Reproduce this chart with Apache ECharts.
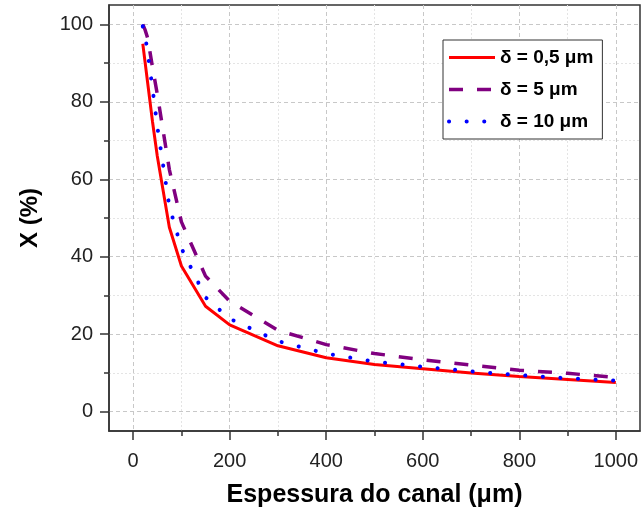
<!DOCTYPE html>
<html>
<head>
<meta charset="utf-8">
<script src="https://cdn.jsdelivr.net/npm/echarts@6/dist/echarts.min.js"></script>
<style>
html,body{margin:0;padding:0;background:#fff;}
#chart{width:642px;height:513px;}
</style>
</head>
<body>
<div id="chart"></div>
<script>
// Channel thickness (µm)
const thickness = [20, 25, 30, 40, 50, 75, 100, 150, 200, 300, 400, 500, 600, 700, 800, 900, 1000];
// X (%) for each delta
const delta05 = [95, 90, 85, 75, 66, 47.6, 37.6, 27.2, 22.4, 17, 13.9, 12.2, 11.1, 10, 9.1, 8.3, 7.5];
const delta5  = [100, 98.5, 96.5, 89, 82, 62.5, 49, 35, 28.5, 21, 17.3, 15, 13.4, 12, 10.7, 9.9, 8.8];
const delta10 = [99.5, 97, 92.7, 83.6, 73.7, 53, 42.2, 29.5, 24, 18.2, 15, 12.9, 11.6, 10.4, 9.4, 8.6, 8.0];
const seriesNames = ['δ = 0,5 μm', 'δ = 5 μm', 'δ = 10 μm'];
// Tick values
const xMajorTicks = [0, 200, 400, 600, 800, 1000];
const xMinorTicks = [100, 300, 500, 700, 900];
const yMajorTicks = [0, 20, 40, 60, 80, 100];
const yMinorTicks = [10, 30, 50, 70, 90];
const xTitle = 'Espessura do canal (μm)';
const yTitle = 'X (%)';

function pairs(ys) { return thickness.map((x, i) => [x, ys[i]]); }

const font = 'Liberation Sans, Arial, sans-serif';
const axisColor = '#333';
const labelStyle = {fontFamily: font, fontSize: 20, color: '#222'};

function majorAxis(pos, min, max, ticks, name, gap, labelMargin, nameSize) {
  return {
    type: 'value', position: pos, offset: 0, min: min, max: max,
    name: name, nameLocation: 'middle', nameGap: gap,
    nameTextStyle: {fontFamily: font, fontSize: nameSize, fontWeight: 'bold', color: '#000'},
    axisLine: {show: true, onZero: false, lineStyle: {color: axisColor, width: 1.5}},
    axisTick: {show: true, inside: false, length: 9, customValues: ticks, lineStyle: {color: axisColor, width: 1.5}},
    axisLabel: {margin: labelMargin, customValues: ticks, formatter: v => String(v), ...labelStyle},
    splitLine: {show: true, lineStyle: {color: '#c8c8c8', type: [4, 3], width: 1}}
  };
}
function minorAxis(pos, min, max, ticks) {
  return {
    type: 'value', position: pos, offset: 0, min: min, max: max,
    axisLine: {show: false, onZero: false},
    axisTick: {show: true, inside: false, length: 5, customValues: ticks, lineStyle: {color: axisColor, width: 1.5}},
    axisLabel: {show: false, customValues: ticks},
    splitLine: {show: true, lineStyle: {color: '#e4e4e4', type: [2, 2], width: 1}}
  };
}

const chart = echarts.init(document.getElementById('chart'), null, {renderer: 'canvas'});
chart.setOption({
  animation: false,
  backgroundColor: '#ffffff',
  grid: {left: 109, top: 5, right: 2, bottom: 80, show: true, borderColor: axisColor, borderWidth: 1.5, backgroundColor: 'transparent'},
  legend: {
    orient: 'vertical', left: 443, top: 40,
    padding: [8, 9, 8, 4], itemGap: 13, itemWidth: 46, itemHeight: 14,
    borderColor: '#333', borderWidth: 1, backgroundColor: '#fff',
    itemStyle: {opacity: 0},
    lineStyle: {width: 'inherit'},
    textStyle: {fontFamily: font, fontSize: 19, fontWeight: 'bold', color: '#000'},
    data: seriesNames
  },
  xAxis: [
    majorAxis('bottom', -50, 1050, xMajorTicks, xTitle, 52, 20, 25),
    minorAxis('bottom', -50, 1050, xMinorTicks)
  ],
  yAxis: [
    majorAxis('left', -5, 105, yMajorTicks, yTitle, 67, 16, 24),
    minorAxis('left', -5, 105, yMinorTicks)
  ],
  series: [
    {name: seriesNames[0], type: 'line', data: pairs(delta05), symbol: 'none', color: '#ff0000',
     lineStyle: {color: '#ff0000', width: 3}},
    {name: seriesNames[1], type: 'line', data: pairs(delta5), symbol: 'none', color: '#800080',
     lineStyle: {color: '#800080', width: 3.5, type: [14, 14]}},
    {name: seriesNames[2], type: 'line', data: pairs(delta10), symbol: 'none', color: '#0000ff',
     lineStyle: {color: '#0000ff', width: 4, type: [0.1, 17.5], cap: 'round'}}
  ]
});
</script>
</body>
</html>
